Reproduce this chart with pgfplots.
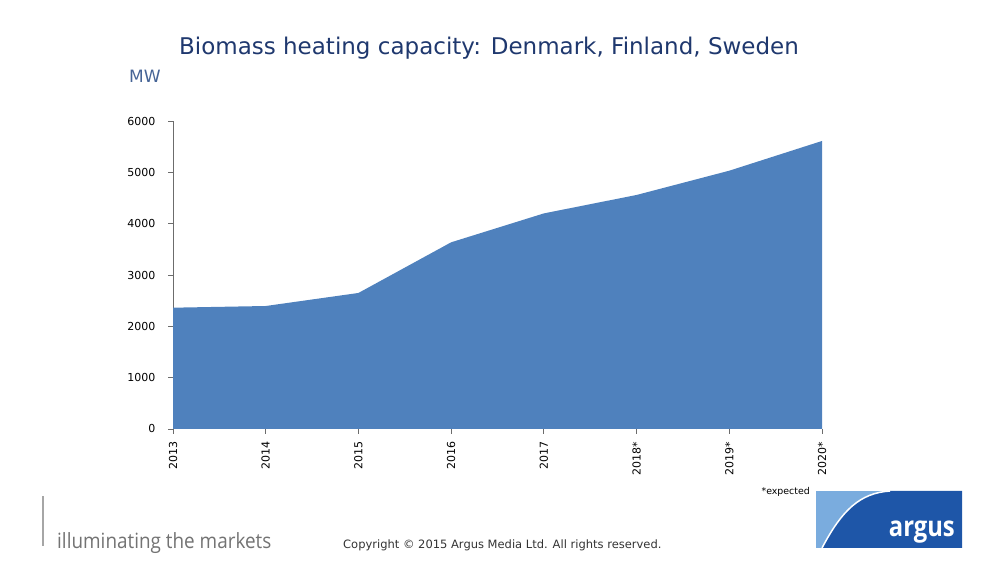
\documentclass[border=0pt]{standalone}
\usepackage{pgfplots}
\pgfplotsset{compat=1.18}
\usepackage{fontspec}
\setmainfont{DejaVu Sans}
\newfontfamily\tah{DejaVu Sans}
\newfontfamily\cond[FakeStretch=0.9]{Open Sans}
\newfontfamily\logof[FakeStretch=0.85]{Open Sans}
\definecolor{areablue}{RGB}{79,129,189}
\definecolor{titleblue}{RGB}{31,56,110}
\definecolor{mwblue}{RGB}{70,100,150}
\definecolor{logolight}{RGB}{122,172,222}
\definecolor{logodark}{RGB}{30,86,168}
\begin{document}
\begin{tikzpicture}[x=1pt,y=1pt]
\useasboundingbox (0,0) rectangle (995,585);
\begin{axis}[
  at={(173pt,156pt)}, anchor=south west,
  scale only axis, width=649pt, height=308pt,
  xmin=0, xmax=7, ymin=0, ymax=6000,
  axis lines=left,
  axis line style={-, draw=gray!85!black, line width=1pt},
  xtick={0,...,7},
  xticklabels={2013,2014,2015,2016,2017,2018*,2019*,2020*},
  ytick={0,1000,...,6000},
  tick style={draw=gray!85!black, line width=0.8pt},
  tick align=outside, major tick length=5pt,
  /pgf/number format/1000 sep={},
  /pgf/number format/assume math mode=true,
  x tick label style={rotate=90, anchor=east, yshift=0pt, xshift=-4pt, font=\tah\fontsize{11}{12}\selectfont},
  y tick label style={xshift=-9pt, font=\tah\fontsize{11}{12}\selectfont},
  clip=false,
]
\addplot[fill=areablue, draw=none] coordinates {
  (0,2363) (1,2396) (2,2650) (3,3637) (4,4200) (5,4559) (6,5032) (7,5611)
} \closedcycle;
\end{axis}
\node[font=\tah\fontsize{23}{27}\selectfont, text=titleblue] at (489,537) {Biomass heating capacity: Denmark, Finland, Sweden};
\node[font=\tah\fontsize{17}{20}\selectfont, text=mwblue, anchor=west, inner sep=0pt] at (129,509) {MW};
\node[font=\tah\fontsize{9.4}{10}\selectfont, anchor=east, inner sep=0pt] at (810,93) {*expected};
\draw[gray!70, line width=1.2pt] (43,39) -- (43,89);
\node[anchor=base west, font=\cond\fontsize{21}{24}\selectfont, text=gray!90!black, inner sep=0pt] at (57,36) {illuminating the markets};
\node[anchor=base west, font=\tah\fontsize{11.5}{13}\selectfont, text=black!80, inner sep=0pt] at (343,36) {Copyright \textcopyright{} 2015 Argus Media Ltd. All rights reserved.};
\fill[logolight] (816,37) rectangle (962,94);
\fill[logodark] (822,37) .. controls (842,75) and (860,92) .. (890,94) -- (962,94) -- (962,37) -- cycle;
\draw[white, line width=1.5pt] (822,37) .. controls (842,75) and (860,92) .. (890,94);
\node[anchor=base east, text=white, font=\logof\bfseries\fontsize{28}{30}\selectfont, inner sep=0pt] at (955,48) {argus};
\end{tikzpicture}
\end{document}
